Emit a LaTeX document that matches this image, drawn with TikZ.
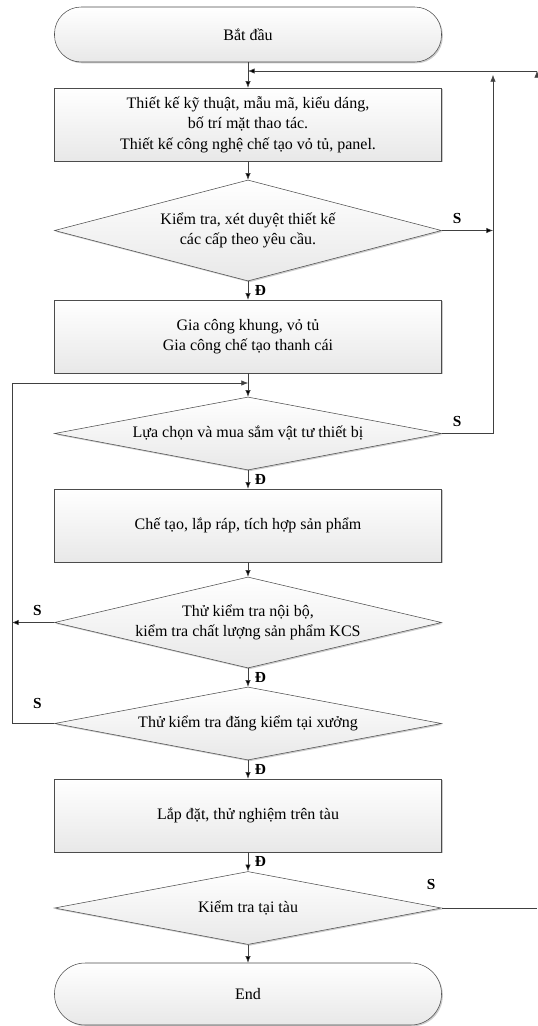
\documentclass[tikz,border=0pt]{standalone}
\usepackage{fontspec}
\setmainfont{Liberation Serif}
\usetikzlibrary{arrows.meta,shapes.geometric,shadows}

\begin{document}
\begin{tikzpicture}
		[x=0.75pt,y=-0.75pt,
		every node/.style={font=\fontsize{12}{15.5}\selectfont},
		shade box/.style={draw=black!70,top color=white,bottom color=black!9,
			drop shadow={shadow xshift=1pt,shadow yshift=-1pt,opacity=0.2,fill=black}},
		terminal/.style={shade box,shape=rectangle,rounded corners=20pt,minimum width=290.25pt,minimum height=41.25pt},
		process/.style={shade box,shape=rectangle,align=center,minimum width=290.25pt,minimum height=54.75pt},
		decision/.style={shade box,shape=diamond,aspect=5.3,align=center,inner sep=0pt,minimum width=290.25pt,minimum height=54.75pt},
		lbl/.style={font=\fontsize{11.5}{13}\selectfont\bfseries,inner sep=1pt},
		arr/.style={draw=black!75,-{Latex[length=5pt,width=4pt]}},
		line/.style={draw=black!75}
		]
		\useasboundingbox (0,0) rectangle (537,1026);
		
		\node [terminal] (start) at (248,34.5) {Bắt đầu};
		\node [process] (box1) at (248,124.5) {Thiết kế kỹ thuật, mẫu mã, kiểu dáng,\\bố trí mặt thao tác.\\Thiết kế công nghệ chế tạo vỏ tủ, panel.};
		\node [decision,aspect=3.83,minimum height=75.75pt] (dia1) at (248,230.5) {Kiểm tra, xét duyệt thiết kế\\các cấp theo yêu cầu.};
		\node [process] (box2) at (248,336.5) {Gia công khung, vỏ tủ\\Gia công chế tạo thanh cái};
		\node [decision] (dia2) at (248,433.5) {Lựa chọn và mua sắm vật tư thiết bị};
		\node [process] (box3) at (248,525.5) {Chế tạo, lắp ráp, tích hợp sản phẩm};
		\node [decision,aspect=4.25,minimum height=68.25pt,inner ysep=-3pt] (dia3) at (248,622.5) {Thử kiểm tra nội bộ,\\kiểm tra chất lượng sản phẩm KCS};
		\node [decision] (dia4) at (248,723.5) {Thử kiểm tra đăng kiểm tại xưởng};
		\node [process] (box4) at (248,815.5) {Lắp đặt, thử nghiệm trên tàu};
		\node [decision] (dia5) at (248,908) {Kiểm tra tại tàu};
		\node [terminal,rounded corners=23pt,minimum height=46.5pt] (end) at (248,994) {End};
		
		% return lines
		\coordinate (t0) at (537,71);
		\coordinate (t1) at (248,71);
		\coordinate (r1) at (493,230.5);
		\coordinate (r2) at (493,433.5);
		\coordinate (r0) at (493,75);
		\coordinate (l3) at (12,622.5);
		\coordinate (l4) at (12,723.5);
		\coordinate (l5) at (12,383);
		\coordinate (l6) at (248,383);
		\coordinate (r5) at (537,908);
		
		\path[arr]
		(start) edge (box1)
		(box1) edge (dia1)
		(dia1) edge node[lbl,right=4pt] {Đ} (box2)
		(box2) edge (dia2)
		(dia2) edge node[lbl,right=4pt] {Đ} (box3)
		(box3) edge (dia3)
		(dia3) edge node[lbl,right=4pt] {Đ} (dia4)
		(dia4) edge node[lbl,right=4pt] {Đ} (box4)
		(box4) edge node[lbl,right=4pt] {Đ} (dia5)
		(dia5) edge (end)
		(t0) edge (t1)
		(dia1) edge node[lbl,above=4pt,pos=0.3] {S} (r1)
		(dia3) edge node[lbl,above=4pt,pos=0.4] {S} (l3)
		;
		
		\draw[arr] (dia2) -- node[lbl,above=4pt,pos=0.3] {S} (r2) -- (r0);
		\draw[arr] (dia4) -- node[lbl,above=10pt,pos=0.4] {S} (l4) -- (l5) -- (l6);
		\draw[line] (dia5) -- node[lbl,pos=0,xshift=-8pt,yshift=18pt] {S} (r5);
		
		\end{tikzpicture}
\end{document}
